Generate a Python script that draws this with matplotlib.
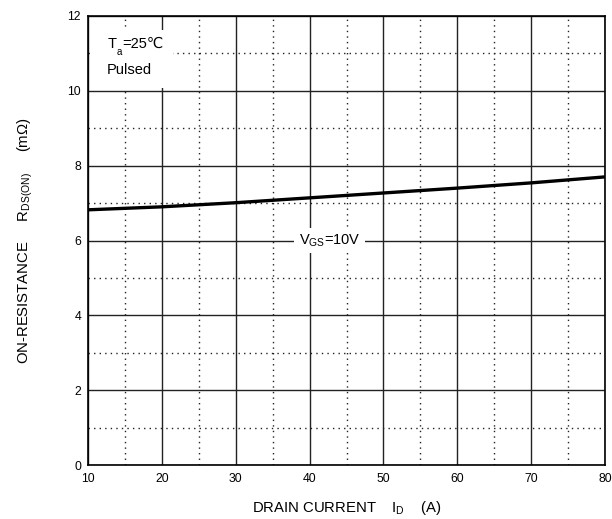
import numpy as np
import matplotlib.pyplot as plt
from matplotlib.patches import Rectangle

plt.rcParams['font.family'] = ['Liberation Sans', 'DejaVu Sans', 'Noto Sans CJK SC']

i_d = [10, 20, 30, 40, 50, 60, 70, 80]
r_on = [6.82, 6.90, 7.01, 7.14, 7.27, 7.40, 7.54, 7.70]
xticks = [10, 20, 30, 40, 50, 60, 70, 80]
yticks = [0, 2, 4, 6, 8, 10, 12]

fig = plt.figure(figsize=(6.12, 5.19), dpi=100)
ax = fig.add_axes([88/612, 1 - 465/519, (605-88)/612, (465-16)/519])

ax.set_xlim(10, 80)
ax.set_ylim(0, 12)
ax.set_xticks(xticks)
ax.set_yticks(yticks)
ax.set_xticks(np.arange(15, 80, 10), minor=True)
ax.set_yticks(np.arange(1, 12, 2), minor=True)
ax.grid(which='major', color='#222222', linewidth=1.0, linestyle='-')
ax.grid(which='minor', color='#222222', linewidth=1.0, linestyle=(0, (1, 3)))
ax.tick_params(which='both', length=0, labelsize=8.8)
ax.tick_params(axis='x', pad=6)
ax.tick_params(axis='y', pad=5)
ax.set_axisbelow(True)
for s in ax.spines.values():
    s.set_linewidth(1.2)
    s.set_color('black')

ax.plot(i_d, r_on, color='black', linewidth=2.4, solid_capstyle='butt')

ax.text(42.7, 6.0, r'V$_{\mathregular{GS}}$=10V', ha='center', va='center', fontsize=10.5,
        bbox=dict(facecolor='white', edgecolor='none', pad=3))

# Ta / Pulsed note on a white patch
ax.add_patch(Rectangle((10.25, 10.08), 11.2, 1.55, facecolor='white', edgecolor='none', zorder=1.5))
fs = 10.5
t1 = ax.text(12.6, 11.15, 'T', va='baseline', ha='left', fontsize=fs, zorder=3)
t2 = ax.annotate('a', xy=(1, 11.15), xycoords=(t1, 'data'), xytext=(0.3, -5),
                 textcoords='offset points', va='baseline', ha='left', fontsize=7, zorder=3)
ax.annotate('=25℃', xy=(1, 11.15), xycoords=(t2, 'data'), xytext=(0.3, 0),
            textcoords='offset points', va='baseline', ha='left', fontsize=fs, zorder=3)
ax.text(12.6, 10.45, 'Pulsed', va='baseline', ha='left', fontsize=fs, zorder=3)

ax.set_xlabel('DRAIN CURRENT    I$_{\\mathregular{D}}$    (A)', fontsize=10.7, labelpad=10)
ax.set_ylabel('ON-RESISTANCE     R$_{\\mathregular{DS(ON)}}$     (mΩ)', fontsize=10.7, labelpad=23)

fig.savefig('out.png', dpi=100)
